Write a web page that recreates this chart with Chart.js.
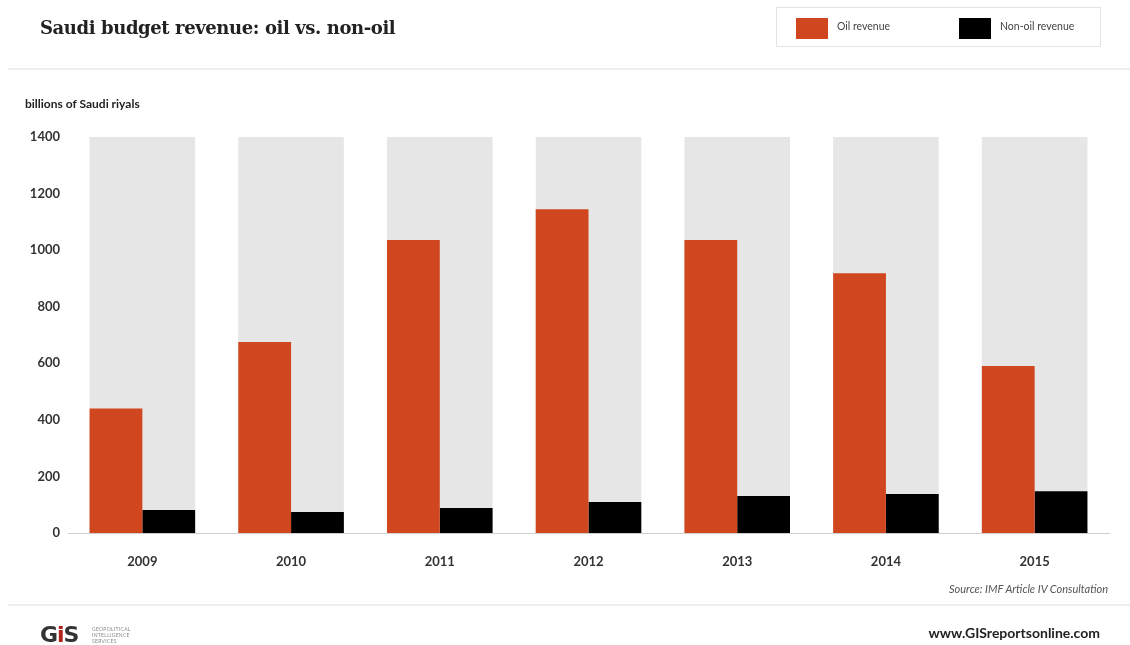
<!DOCTYPE html>
<html>
<head>
<meta charset="utf-8">
<script src="https://cdn.jsdelivr.net/npm/chart.js@4.4.0/dist/chart.umd.min.js"></script>
<style>
  html,body{margin:0;padding:0;background:#fff;}
  body{width:1130px;height:645px;position:relative;overflow:hidden;font-family:Lato,sans-serif;}
  #wrap{position:absolute;left:0;top:0;width:1130px;height:645px;}
  .abs{position:absolute;white-space:nowrap;}
  #title{left:40px;top:17px;font-family:"DejaVu Serif",serif;font-weight:bold;font-size:18px;color:#222;letter-spacing:-0.4px;}
  #sep1{left:8px;top:68px;width:1122px;height:2px;background:#eeeeee;}
  #sep2{left:8px;top:604px;width:1122px;height:2px;background:#eeeeee;}
  #legend{left:776px;top:7px;width:323px;height:38px;border:1px solid #e3e3e3;}
  .sw{position:absolute;top:10px;width:32px;height:21px;}
  .lt{position:absolute;top:12px;font-size:10.5px;color:#444;}
  #ytitle{left:25px;top:96px;font-weight:bold;font-size:12px;color:#222;}
  #source{right:22px;top:582px;font-style:italic;font-size:11px;color:#555;}
  #site{right:30px;top:624px;font-weight:bold;font-size:14px;color:#222;}
  #logo{left:40px;top:622px;font-family:"DejaVu Sans",sans-serif;font-weight:bold;font-size:22px;color:#333;letter-spacing:-1px;}
  #logo .dot{color:#b0231a;}
  #logosub{left:92px;top:626px;font-size:5px;line-height:6px;color:#888;letter-spacing:0.3px;}
</style>
</head>
<body>
<div id="wrap"><canvas id="c" width="1130" height="645"></canvas></div>
<div class="abs" id="title">Saudi budget revenue: oil vs. non-oil</div>
<div class="abs" id="sep1"></div>
<div class="abs" id="legend"></div>
<div class="abs" id="ytitle">billions of Saudi riyals</div>
<div class="abs" id="source">Source: IMF Article IV Consultation</div>
<div class="abs" id="sep2"></div>
<div class="abs" id="logo">G<span class="dot">i</span>S</div>
<div class="abs" id="logosub">GEOPOLITICAL<br>INTELLIGENCE<br>SERVICES</div>
<div class="abs" id="site">www.GISreportsonline.com</div>
<script>
const categories = ['2009','2010','2011','2012','2013','2014','2015'];
const oilRevenue = [440, 675, 1036, 1145, 1036, 918, 590];
const nonOilRevenue = [81, 74, 88, 110, 131, 138, 148];
const backgroundBand = [1400, 1400, 1400, 1400, 1400, 1400, 1400];
const yTicks = [0, 200, 400, 600, 800, 1000, 1200, 1400];
const seriesNames = ['Oil revenue', 'Non-oil revenue'];
const seriesColors = ['#d0461f', '#000000'];

const lg = document.getElementById('legend');
const swX = [19, 182], txX = [60, 223];
seriesNames.forEach((n,i)=>{
  const s=document.createElement('div'); s.className='sw'; s.style.left=swX[i]+'px'; s.style.background=seriesColors[i]; lg.appendChild(s);
  const t=document.createElement('div'); t.className='lt'; t.style.left=txX[i]+'px'; t.textContent=n; lg.appendChild(t);
});

const tickFont = {family:'Lato', size:13, weight:'bold'};
new Chart(document.getElementById('c'), {
  type:'bar',
  data:{
    labels:categories,
    datasets:[
      {label:seriesNames[0], data:oilRevenue, backgroundColor:seriesColors[0], order:1, categoryPercentage:0.71, barPercentage:1},
      {label:seriesNames[1], data:nonOilRevenue, backgroundColor:seriesColors[1], order:1, categoryPercentage:0.71, barPercentage:1},
      {label:'bg', data:backgroundBand, backgroundColor:'#e6e6e6', order:5, grouped:false, categoryPercentage:0.71, barPercentage:1}
    ]
  },
  options:{
    responsive:false, animation:false,
    layout:{padding:{left:0,right:21,top:137,bottom:0}},
    plugins:{legend:{display:false}, tooltip:{enabled:false}},
    scales:{
      x:{
        grid:{display:false, drawTicks:false},
        border:{display:true, color:'#cfcfcf', width:1},
        ticks:{font:tickFont, color:'#333', padding:21},
        afterFit(s){ s.height = 645-533; }
      },
      y:{
        min:0, max:1400,
        afterBuildTicks(s){ s.ticks = yTicks.map(v=>({value:v})); },
        grid:{display:false, drawTicks:false},
        border:{display:false},
        ticks:{font:tickFont, color:'#333', padding:8, callback:(v)=>String(v)},
        afterFit(s){ s.width = 68; }
      }
    }
  }
});
</script>
</body>
</html>
